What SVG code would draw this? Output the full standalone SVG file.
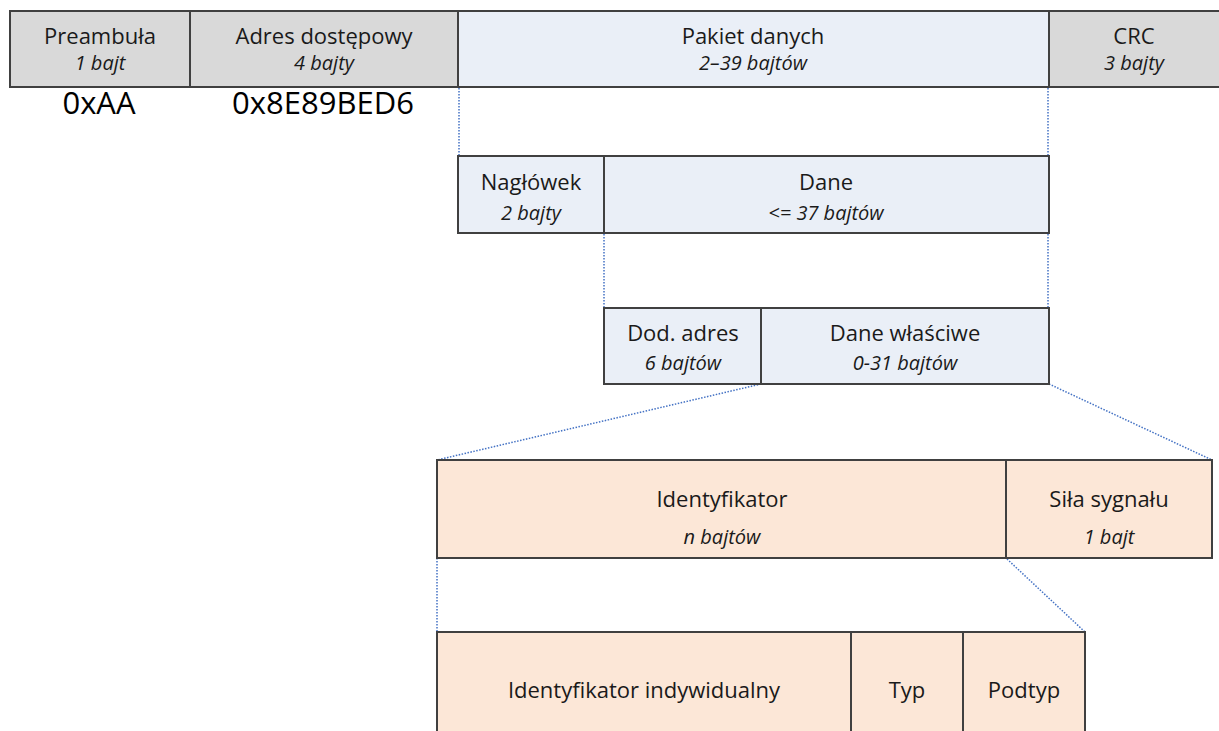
<svg xmlns="http://www.w3.org/2000/svg" width="1219" height="731" viewBox="0 0 1219 731">
<style>
.box{stroke:#404040;stroke-width:2}
.g{fill:#d9d9d9}
.b{fill:#eaeff7}
.p{fill:#fce7d7}
.t{font-family:"Open Sans","Liberation Sans",sans-serif;font-size:22px;fill:#1a1a1a;text-anchor:middle}
.i{font-style:italic;font-size:20px}
.big{font-family:"Open Sans","Liberation Sans",sans-serif;font-size:31px;fill:#000;text-anchor:middle}
.dot{stroke:#4472c4;stroke-width:1.5;stroke-dasharray:1.5 1.5;fill:none}
</style>
<rect width="1219" height="731" fill="#fff"/>
<g id="connectors">
<line class="dot" x1="459" y1="88" x2="459" y2="156"/>
<line class="dot" x1="1048" y1="88" x2="1048" y2="156"/>
<line class="dot" x1="604" y1="234" x2="604" y2="308"/>
<line class="dot" x1="1048" y1="234" x2="1048" y2="308"/>
<line class="dot" x1="761" y1="384" x2="437" y2="460"/>
<line class="dot" x1="1049" y1="384" x2="1212" y2="460"/>
<line class="dot" x1="437" y1="558" x2="437" y2="632"/>
<line class="dot" x1="1007" y1="559" x2="1085" y2="632"/>
</g>
<g id="preambula"><rect class="box g" x="10" y="11" width="180" height="76"/><text class="t" x="100" y="44">Preambuła</text><text class="t i" x="100" y="70">1 bajt</text></g>
<g id="adres"><rect class="box g" x="190" y="11" width="268" height="76"/><text class="t" x="324" y="44">Adres dostępowy</text><text class="t i" x="324" y="70">4 bajty</text></g>
<g id="pakiet"><rect class="box b" x="458" y="11" width="591" height="76"/><text class="t" x="753" y="44">Pakiet danych</text><text class="t i" x="753" y="70">2–39 bajtów</text></g>
<g id="crc"><rect class="box g" x="1049" y="11" width="175" height="76"/><text class="t" x="1134" y="44">CRC</text><text class="t i" x="1134" y="70">3 bajty</text></g>
<g id="val-pre"><text class="big" x="99" y="114">0xAA</text></g>
<g id="val-adr"><text class="big" x="323" y="114">0x8E89BED6</text></g>
<g id="naglowek"><rect class="box b" x="458" y="156" width="146" height="77"/><text class="t" x="531" y="190">Nagłówek</text><text class="t i" x="531" y="220">2 bajty</text></g>
<g id="dane"><rect class="box b" x="604" y="156" width="445" height="77"/><text class="t" x="826" y="190">Dane</text><text class="t i" x="826" y="220">&lt;= 37 bajtów</text></g>
<g id="dodadres"><rect class="box b" x="604" y="308" width="157" height="76"/><text class="t" x="683" y="341">Dod. adres</text><text class="t i" x="683" y="370">6 bajtów</text></g>
<g id="danewl"><rect class="box b" x="761" y="308" width="288" height="76"/><text class="t" x="905" y="341">Dane właściwe</text><text class="t i" x="905" y="370">0-31 bajtów</text></g>
<g id="identyfikator"><rect class="box p" x="437" y="460" width="569" height="98"/><text class="t" x="722" y="507">Identyfikator</text><text class="t i" x="722" y="544">n bajtów</text></g>
<g id="sila"><rect class="box p" x="1006" y="460" width="206" height="98"/><text class="t" x="1109" y="507">Siła sygnału</text><text class="t i" x="1109" y="544">1 bajt</text></g>
<g id="indywidualny"><rect class="box p" x="437" y="632" width="414" height="110"/><text class="t" x="644" y="698">Identyfikator indywidualny</text></g>
<g id="typ"><rect class="box p" x="851" y="632" width="112" height="110"/><text class="t" x="907" y="698">Typ</text></g>
<g id="podtyp"><rect class="box p" x="963" y="632" width="122" height="110"/><text class="t" x="1024" y="698">Podtyp</text></g>
</svg>
